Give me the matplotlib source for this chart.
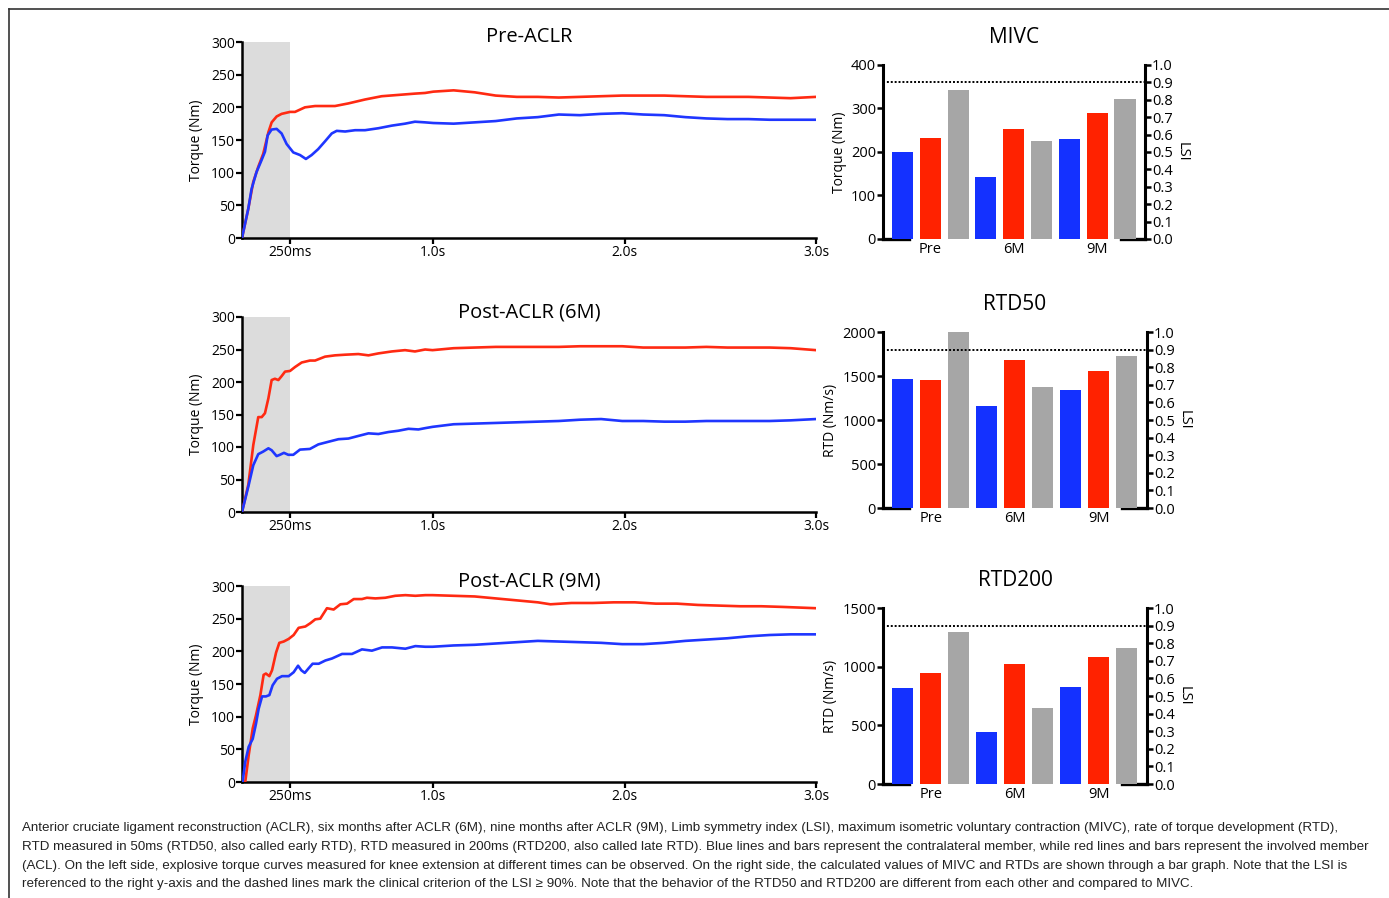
import numpy as np
import matplotlib
matplotlib.use("Agg")
import matplotlib.pyplot as plt
from matplotlib.lines import Line2D

plt.rcParams["font.family"] = ["Open Sans", "DejaVu Sans"]

BLUE_LINE = "#1f36ff"
RED_LINE = "#ff2a12"
BLUE_BAR = "#1431ff"
RED_BAR = "#ff2200"
GRAY_BAR = "#a6a6a6"

# ---- torque curves (time s, torque Nm) ----
pre_red_t = [0, 0.033, 0.059, 0.085, 0.111, 0.138, 0.155, 0.181, 0.207, 0.251, 0.277, 0.329, 0.382,
             0.434, 0.486, 0.556, 0.643, 0.730, 0.817, 0.904, 0.957, 1.0, 1.106, 1.216, 1.326, 1.436,
             1.546, 1.656, 1.766, 1.876, 1.987, 2.097, 2.207, 2.317, 2.427, 2.537, 2.647, 2.757, 2.867, 3.0]
pre_red_v = [0, 45, 86, 109, 129, 162, 177, 186, 190, 193, 193, 200, 202,
             202, 202, 206, 212, 217, 219, 221, 222, 224, 226, 223, 218, 216,
             216, 215, 216, 217, 218, 218, 218, 217, 216, 216, 216, 215, 214, 216]
pre_blue_t = [0, 0.033, 0.050, 0.076, 0.102, 0.120, 0.134, 0.155, 0.181, 0.207, 0.233, 0.268, 0.303,
              0.334, 0.364, 0.398, 0.434, 0.469, 0.495, 0.539, 0.591, 0.643, 0.713, 0.783, 0.852, 0.904,
              0.957, 1.0, 1.106, 1.216, 1.326, 1.436, 1.546, 1.656, 1.766, 1.876, 1.987, 2.097, 2.207,
              2.317, 2.427, 2.537, 2.647, 2.757, 2.867, 3.0]
pre_blue_v = [0, 45, 75, 101, 119, 132, 157, 166, 167, 160, 144, 131, 127,
              121, 127, 136, 148, 160, 164, 163, 165, 165, 168, 172, 175, 178,
              177, 176, 175, 177, 179, 183, 185, 189, 188, 190, 191, 189, 188,
              185, 183, 182, 182, 181, 181, 181]

m6_red_t = [0, 0.033, 0.059, 0.085, 0.103, 0.120, 0.138, 0.155, 0.172, 0.190, 0.207, 0.225, 0.251,
            0.277, 0.312, 0.355, 0.382, 0.434, 0.486, 0.539, 0.608, 0.661, 0.713, 0.783, 0.852, 0.904,
            0.957, 0.996, 1.106, 1.216, 1.326, 1.436, 1.546, 1.656, 1.767, 1.877, 1.987, 2.097, 2.207,
            2.317, 2.427, 2.537, 2.648, 2.758, 2.868, 3.0]
m6_red_v = [0, 42, 103, 146, 146, 152, 175, 203, 205, 203, 209, 216, 217,
            223, 230, 233, 233, 239, 241, 242, 243, 241, 244, 247, 249, 247,
            250, 249, 252, 253, 254, 254, 254, 254, 255, 255, 255, 253, 253,
            253, 254, 253, 253, 253, 252, 249]
m6_blue_t = [0, 0.033, 0.059, 0.085, 0.111, 0.138, 0.155, 0.181, 0.198, 0.219, 0.242, 0.268, 0.303,
             0.355, 0.399, 0.451, 0.504, 0.556, 0.608, 0.661, 0.713, 0.765, 0.817, 0.870, 0.922, 0.957,
             0.996, 1.106, 1.216, 1.326, 1.436, 1.546, 1.656, 1.767, 1.877, 1.987, 2.097, 2.207, 2.317,
             2.427, 2.537, 2.648, 2.758, 2.868, 3.0]
m6_blue_v = [0, 39, 72, 89, 93, 98, 95, 86, 88, 91, 88, 88, 96,
             97, 104, 108, 112, 113, 117, 121, 120, 123, 125, 128, 127, 129,
             131, 135, 136, 137, 138, 139, 140, 142, 143, 140, 140, 139, 139,
             140, 140, 140, 140, 141, 143]

m9_red_t = [0.017, 0.035, 0.056, 0.073, 0.096, 0.113, 0.125, 0.143, 0.157, 0.178, 0.195, 0.218, 0.244,
            0.270, 0.296, 0.331, 0.357, 0.383, 0.409, 0.444, 0.479, 0.514, 0.549, 0.584, 0.627, 0.653,
            0.697, 0.749, 0.801, 0.854, 0.906, 0.958, 0.996, 1.106, 1.216, 1.326, 1.436, 1.546, 1.612,
            1.722, 1.833, 1.943, 2.053, 2.163, 2.273, 2.383, 2.493, 2.604, 2.714, 2.824, 3.0]
m9_red_v = [0, 41, 82, 102, 133, 164, 166, 162, 171, 198, 213, 215, 219,
            225, 236, 238, 243, 249, 250, 266, 264, 272, 273, 280, 280, 282,
            281, 282, 285, 286, 285, 286, 286, 285, 284, 281, 278, 275, 272,
            274, 274, 275, 275, 273, 273, 271, 270, 269, 269, 268, 266]
m9_blue_t = [0.003, 0.017, 0.035, 0.056, 0.073, 0.087, 0.105, 0.125, 0.143, 0.160, 0.183, 0.209, 0.244,
             0.270, 0.293, 0.310, 0.328, 0.348, 0.369, 0.401, 0.436, 0.470, 0.523, 0.575, 0.627, 0.679,
             0.732, 0.784, 0.854, 0.906, 0.958, 0.996, 1.106, 1.216, 1.326, 1.436, 1.546, 1.656, 1.767,
             1.877, 1.987, 2.097, 2.207, 2.317, 2.427, 2.537, 2.648, 2.758, 2.868, 3.0]
m9_blue_v = [0, 31, 54, 66, 89, 112, 131, 131, 133, 148, 158, 162, 162,
             168, 178, 171, 167, 174, 181, 181, 186, 189, 196, 196, 203, 201,
             206, 206, 204, 208, 207, 207, 209, 210, 212, 214, 216, 215, 214,
             213, 211, 211, 213, 216, 218, 220, 223, 225, 226, 226]

line_titles = ["Pre-ACLR", "Post-ACLR (6M)", "Post-ACLR (9M)"]
line_data = [
    (pre_red_t, pre_red_v, pre_blue_t, pre_blue_v),
    (m6_red_t, m6_red_v, m6_blue_t, m6_blue_v),
    (m9_red_t, m9_red_v, m9_blue_t, m9_blue_v),
]

# ---- bar charts: contralateral (blue), involved (red), LSI (gray, right axis) ----
groups = ["Pre", "6M", "9M"]
mivc_blue = [200, 142, 231]
mivc_red = [233, 254, 289]
mivc_lsi = [0.855, 0.565, 0.805]
rtd50_blue = [1464, 1158, 1340]
rtd50_red = [1460, 1687, 1562]
rtd50_lsi = [1.0, 0.685, 0.864]
rtd200_blue = [814, 446, 829]
rtd200_red = [949, 1026, 1083]
rtd200_lsi = [0.861, 0.432, 0.771]
lsi_criterion = 0.9

bar_titles = ["MIVC", "RTD50", "RTD200"]
bar_ylabels = ["Torque (Nm)", "RTD (Nm/s)", "RTD (Nm/s)"]
bar_ymax = [400, 2000, 1500]
bar_yticks = [[0, 100, 200, 300, 400], [0, 500, 1000, 1500, 2000], [0, 500, 1000, 1500]]
bar_data = [
    (mivc_blue, mivc_red, mivc_lsi),
    (rtd50_blue, rtd50_red, rtd50_lsi),
    (rtd200_blue, rtd200_red, rtd200_lsi),
]

W, H = 1389, 898
fig = plt.figure(figsize=(W / 100, H / 100), dpi=100)


def fbox(left, top, right, bottom):
    return [left / W, 1 - bottom / H, (right - left) / W, (bottom - top) / H]


line_boxes = [(242, 42, 816, 238), (242, 317, 816, 512), (242, 586, 816, 782)]
bar_boxes = [(883, 65, 1145, 239), (883, 332, 1147, 508), (883, 608, 1147, 784)]

for i in range(3):
    ax = fig.add_axes(fbox(*line_boxes[i]))
    rt, rv, bt, bv = line_data[i]
    ax.axvspan(0, 0.25, color="#dcdcdc", lw=0, zorder=0)
    ax.plot(rt, rv, color=RED_LINE, lw=1.9, zorder=3)
    ax.plot(bt, bv, color=BLUE_LINE, lw=1.9, zorder=4)
    ax.set_xlim(0, 3.0)
    ax.set_ylim(0, 300)
    ax.set_yticks([0, 50, 100, 150, 200, 250, 300])
    ax.set_xticks([0.25, 1.0, 2.0, 3.0])
    ax.set_xticklabels(["250ms", "1.0s", "2.0s", "3.0s"])
    for s in ["top", "right"]:
        ax.spines[s].set_visible(False)
    for s in ["left", "bottom"]:
        ax.spines[s].set_linewidth(1.8)
    ax.tick_params(axis="both", direction="out", length=4, width=1.6, labelsize=10, pad=1)
    ax.set_ylabel("Torque (Nm)", fontsize=10, labelpad=5)
    ax.text(0.5, 1.025, line_titles[i], transform=ax.transAxes, ha="center", va="center", fontsize=14.5)

for i in range(3):
    ax = fig.add_axes(fbox(*bar_boxes[i]))
    blue, red, lsi = bar_data[i]
    x = np.arange(9)
    ax.bar(x[0::3], blue, width=0.76, color=BLUE_BAR, zorder=3)
    ax.bar(x[1::3], red, width=0.76, color=RED_BAR, zorder=3)
    ax.set_xlim(-0.7, 8.72)
    ax.set_ylim(0, bar_ymax[i])
    ax.set_yticks(bar_yticks[i])
    ax.set_xticks([1, 4, 7])
    ax.set_xticklabels(groups)
    ax.tick_params(axis="x", length=0, labelsize=10.5, pad=2)
    ax.tick_params(axis="y", direction="out", length=4, width=1.8, labelsize=10.5, pad=1)
    for s in ["top", "right", "bottom"]:
        ax.spines[s].set_visible(False)
    ax.spines["left"].set_linewidth(2.2)
    ax.set_ylabel(bar_ylabels[i], fontsize=10, labelpad=3)
    # baseline stubs at both ends
    for x0, x1 in [(-0.7, 0.22), (7.84, 8.72)]:
        ax.add_line(Line2D([x0, x1], [0, 0], color="black", lw=2.4, clip_on=False, zorder=2))

    ax2 = ax.twinx()
    ax2.bar(x[2::3], lsi, width=0.76, color=GRAY_BAR, zorder=3)
    ax2.axhline(lsi_criterion, color="black", ls=(0, (1, 1)), lw=1.4, zorder=4)
    ax2.set_ylim(0, 1.0)
    ax2.set_yticks(np.arange(0, 1.01, 0.1))
    ax2.set_yticklabels([f"{v:.1f}" for v in np.arange(0, 1.01, 0.1)])
    for s in ["top", "left", "bottom"]:
        ax2.spines[s].set_visible(False)
    ax2.spines["right"].set_linewidth(2.2)
    ax2.tick_params(axis="y", direction="out", length=4, width=1.8, labelsize=10.5, pad=1)
    ax2.set_ylabel("LSI", fontsize=10.5, rotation=270, labelpad=12)
    ax2.set_title(bar_titles[i], fontsize=15, pad=16)

caption = [
    "Anterior cruciate ligament reconstruction (ACLR), six months after ACLR (6M), nine months after ACLR (9M), Limb symmetry index (LSI), maximum isometric voluntary contraction (MIVC), rate of torque development (RTD),",
    "RTD measured in 50ms (RTD50, also called early RTD), RTD measured in 200ms (RTD200, also called late RTD). Blue lines and bars represent the contralateral member, while red lines and bars represent the involved member",
    "(ACL). On the left side, explosive torque curves measured for knee extension at different times can be observed. On the right side, the calculated values of MIVC and RTDs are shown through a bar graph. Note that the LSI is",
    "referenced to the right y-axis and the dashed lines mark the clinical criterion of the LSI \u2265 90%. Note that the behavior of the RTD50 and RTD200 are different from each other and compared to MIVC.",
]
cap_texts = []
for k, line in enumerate(caption):
    t = fig.text(22 / W, 1 - (828 + 18.8 * k) / H, line, ha="left", va="center", fontsize=9.6,
                 family=["Liberation Sans", "DejaVu Sans"], color="#222222")
    cap_texts.append(t)

# step the caption size down until its longest line fits inside the frame
fig.canvas.draw()
renderer = fig.canvas.get_renderer()
size = 9.6
while size > 7:
    for t in cap_texts:
        t.set_fontsize(size)
    widest = max(t.get_window_extent(renderer).width for t in cap_texts)
    if widest <= 1362:
        break
    size -= 0.05

# frame around the figure
fig.add_artist(Line2D([9 / W, 9 / W], [1 - 9 / H, 0], color="#333333", lw=1.2))
fig.add_artist(Line2D([9 / W, 1], [1 - 9 / H, 1 - 9 / H], color="#333333", lw=1.2))

fig.savefig("out.png", dpi=100)
